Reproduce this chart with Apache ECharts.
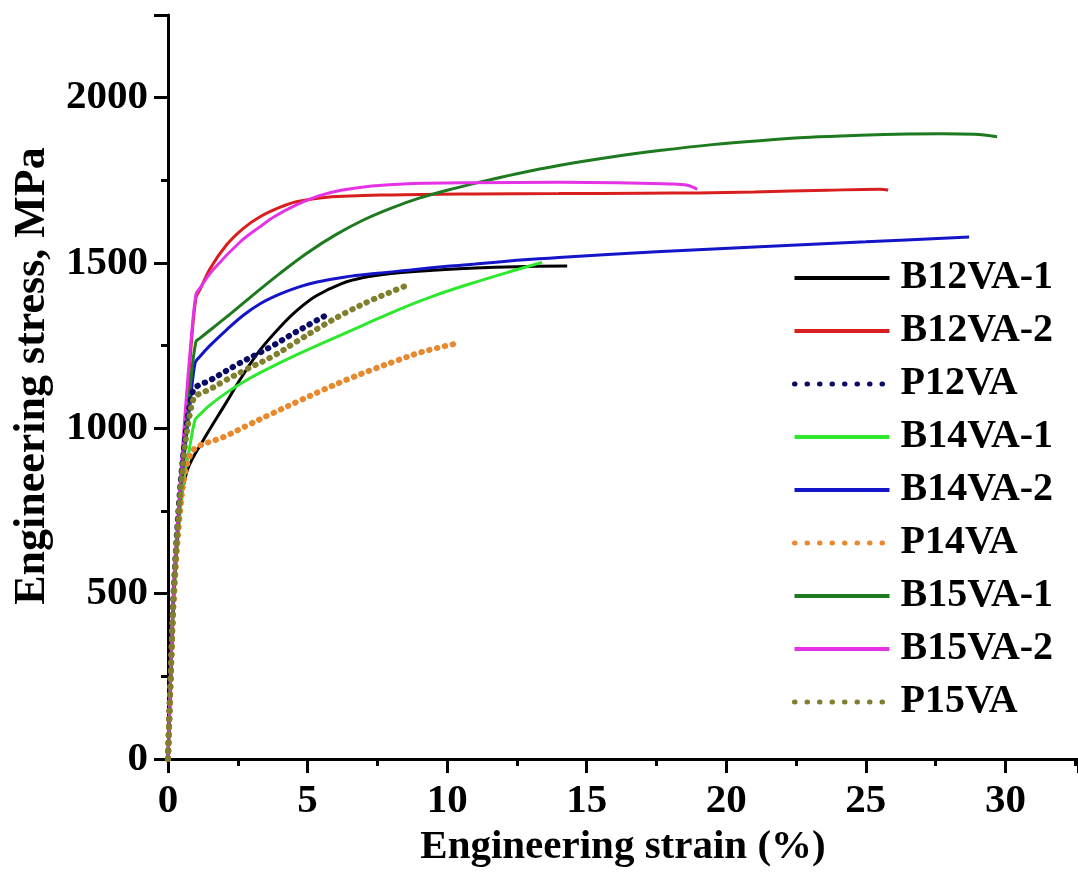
<!DOCTYPE html>
<html>
<head>
<meta charset="utf-8">
<script src="https://cdn.jsdelivr.net/npm/echarts@6/dist/echarts.min.js"></script>
<style>
html,body{margin:0;padding:0;background:#fff;}
#chart{width:1078px;height:879px;}
</style>
</head>
<body>
<div id="chart"></div>
<script>
const seriesNames = ['B12VA-1','B12VA-2','P12VA','B14VA-1','B14VA-2','P14VA','B15VA-1','B15VA-2','P15VA'];
const seriesColors = ['#000000','#d81e1e','#0b0b66','#2ee82e','#1414c8','#e8892e','#1e7a1e','#e632e6','#7f7f2e'];
const seriesDotted = [false,false,true,false,false,true,false,false,true];

const b12va1 = [[0,0],[0.1,260],[0.2,480],[0.35,680],[0.5,800],[0.72,880],[1.2,955],[2.1,1080],[2.6,1150],[3.3,1237],[4.0,1305],[4.6,1355],[5.3,1400],[6.2,1437],[7.0,1456],[8.0,1468],[9.5,1478],[11,1485],[12.5,1489],[14.3,1491]];
const b12va2 = [[0,0],[0.1,260],[0.2,500],[0.4,760],[0.6,1000],[0.8,1220],[1.0,1395],[1.15,1420],[1.5,1482],[2.1,1555],[2.7,1605],[3.3,1640],[4.0,1668],[4.6,1685],[5.7,1699],[8,1706],[11,1709],[14,1710],[17,1711],[19,1712],[21,1715],[23.6,1720],[25.5,1723],[25.8,1721]];
const p12va = [[0,0],[0.1,270],[0.2,500],[0.4,780],[0.6,960],[0.8,1080],[0.97,1122],[1.5,1145],[1.97,1168],[2.5,1194],[3.18,1224],[3.8,1252],[4.37,1281],[5.0,1311],[5.62,1340]];
const b14va1 = [[0,0],[0.1,250],[0.2,470],[0.4,720],[0.6,860],[0.75,930],[0.97,1026],[1.12,1040],[1.5,1070],[2.1,1108],[2.9,1150],[3.5,1177],[4.6,1222],[5.7,1264],[7,1312],[8.2,1357],[9.5,1400],[11.05,1443],[12.3,1475],[13.4,1502]];
const b14va2 = [[0,0],[0.1,260],[0.2,490],[0.4,750],[0.6,930],[0.8,1080],[0.97,1198],[1.12,1215],[1.5,1250],[2.1,1298],[2.7,1342],[3.3,1377],[4.0,1406],[4.7,1428],[5.3,1442],[6.3,1457],[7.5,1469],[8.7,1479],[10,1490],[11,1497],[12.5,1508],[14,1517],[17.5,1534],[21.2,1549],[25,1564],[28.7,1579]];
const p14va = [[0,0],[0.1,250],[0.2,470],[0.4,720],[0.6,860],[0.8,920],[1.04,944],[1.97,973],[2.8,1007],[3.76,1046],[4.7,1083],[5.55,1116],[6.4,1147],[7.3,1177],[8.2,1205],[9.1,1231],[10.45,1259]];
const b15va1 = [[0,0],[0.1,260],[0.2,500],[0.4,760],[0.6,950],[0.8,1130],[1.0,1262],[1.15,1273],[2.1,1337],[3.0,1400],[4.0,1468],[5.0,1531],[6.0,1585],[7.0,1630],[8.0,1666],[9.0,1696],[10,1720],[11.1,1743],[12.5,1770],[14,1795],[16,1822],[17.6,1840],[19.5,1858],[21.2,1870],[23,1880],[24.8,1886],[26.5,1890],[27.7,1891],[28.9,1889],[29.7,1882]];
const b15va2 = [[0,0],[0.1,270],[0.2,520],[0.4,790],[0.6,1030],[0.8,1240],[1.0,1405],[1.15,1425],[1.6,1478],[2.6,1565],[3.3,1610],[3.8,1640],[4.6,1676],[5.4,1703],[6.2,1720],[7.3,1733],[8.6,1740],[10.9,1743],[14,1744],[16.5,1742],[18.0,1739],[18.6,1735],[18.96,1723]];
const p15va = [[0,0],[0.1,260],[0.2,490],[0.4,760],[0.6,940],[0.8,1050],[0.97,1095],[1.5,1118],[1.97,1141],[2.8,1178],[3.76,1218],[4.6,1262],[5.55,1311],[6.4,1351],[7.3,1388],[8.0,1413],[8.6,1434]];

const allData = [b12va1,b12va2,p12va,b14va1,b14va2,p14va,b15va1,b15va2,p15va];

const xTicks = {min:0, max:32.6, interval:5};
const yTicks = {min:0, max:2250, interval:500};

const FONT = '"Liberation Serif","Times New Roman",serif';

const chart = echarts.init(document.getElementById('chart'), null, {renderer:'canvas'});

function lineStyleFor(i){
  return seriesDotted[i]
    ? {color: seriesColors[i], width: 6, type: [0.5, 7.5], cap: 'round'}
    : {color: seriesColors[i], width: 3, type: 'solid'};
}

const series = seriesNames.map((name,i)=>({
  name: name,
  type: 'line',
  data: allData[i],
  showSymbol: false,
  symbol: 'none',
  smooth: 0.35,
  z: seriesDotted[i] ? 3 : 2,
  lineStyle: lineStyleFor(i),
  itemStyle: {color: seriesColors[i]}
}));

const legendData = seriesNames.map((name,i)=>({
  name: name,
  itemStyle: {opacity: 0},
  lineStyle: seriesDotted[i]
    ? {color: seriesColors[i], width: 5, type: [0.5, 12], cap: 'round'}
    : {color: seriesColors[i], width: 4, type: 'solid'}
}));

chart.setOption({
  animation: false,
  backgroundColor: '#ffffff',
  grid: {left: 168, top: 15, right: 0, bottom: 120, containLabel: false},
  xAxis: [{
    type: 'value',
    min: xTicks.min, max: xTicks.max, interval: xTicks.interval,
    name: 'Engineering strain (%)',
    nameLocation: 'middle',
    nameGap: 52,
    nameTextStyle: {fontFamily: FONT, fontWeight: 'bold', fontSize: 41, color: '#000'},
    axisLine: {show: true, onZero: false, lineStyle: {color: '#000', width: 3}},
    axisTick: {show: true, inside: false, length: 14, lineStyle: {color: '#000', width: 3}},
    minorTick: {show: true, splitNumber: 2, length: 7, lineStyle: {color: '#000', width: 3}},
    axisLabel: {margin: 22, fontFamily: FONT, fontWeight: 'bold', fontSize: 41, color: '#000', showMaxLabel: false},
    splitLine: {show: false}
  },{
    type: 'value', position: 'top',
    min: xTicks.min, max: xTicks.max,
    axisLine: {show: true, lineStyle: {color: '#000', width: 3}},
    axisTick: {show: false}, axisLabel: {show: false}, splitLine: {show: false}
  }],
  yAxis: {
    type: 'value',
    min: yTicks.min, max: yTicks.max, interval: yTicks.interval,
    name: 'Engineering stress, MPa',
    nameLocation: 'middle',
    nameGap: 110,
    nameTextStyle: {fontFamily: FONT, fontWeight: 'bold', fontSize: 44, color: '#000', padding: [0,0,0,22]},
    axisLine: {show: true, onZero: false, lineStyle: {color: '#000', width: 3}},
    axisTick: {show: true, inside: false, length: 14, lineStyle: {color: '#000', width: 3}},
    minorTick: {show: true, splitNumber: 2, length: 7, lineStyle: {color: '#000', width: 3}},
    axisLabel: {margin: 20, fontFamily: FONT, fontWeight: 'bold', fontSize: 41, color: '#000', showMaxLabel: false,
      formatter: function(v){ return String(v); }},
    splitLine: {show: false}
  },
  legend: {
    orient: 'vertical',
    left: 792,
    top: 258,
    padding: 0,
    itemWidth: 95,
    itemHeight: 14,
    itemGap: 13,
    data: legendData,
    itemStyle: {opacity: 0},
    textStyle: {fontFamily: FONT, fontWeight: 'bold', fontSize: 40, color: '#000', padding: [0,0,0,6]}
  },
  series: series
});
</script>
</body>
</html>
